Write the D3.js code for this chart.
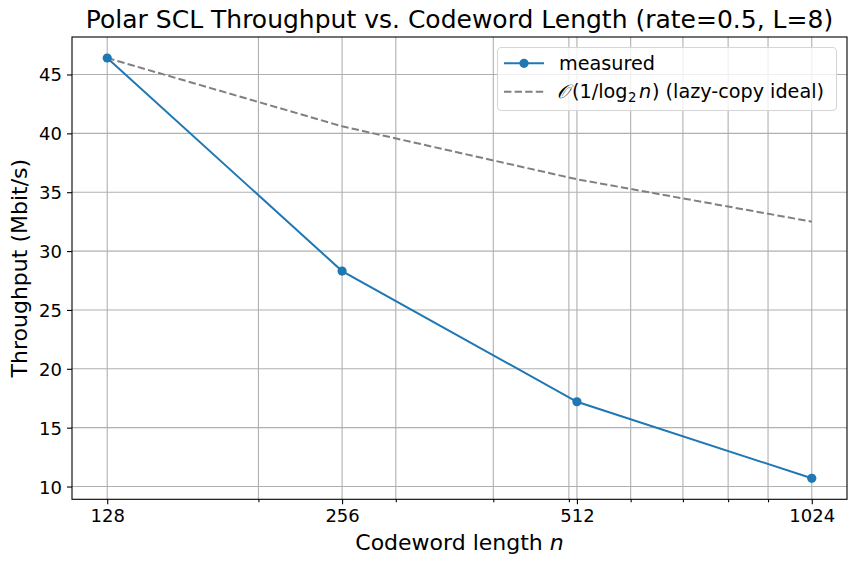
<!DOCTYPE html>
<html><head><meta charset="utf-8">
<script src="https://cdn.jsdelivr.net/npm/d3@7"></script>
<style>
body{margin:0;background:#fff;}
svg{display:block;font-family:"DejaVu Sans",sans-serif;}
</style></head>
<body><svg id="c" width="856" height="566"></svg>
<script>
const codewordLengths = [128, 256, 512, 1024];
const measured = [46.4, 28.3, 17.2, 10.7];
const ideal = [46.4, 40.6, 36.1, 32.5];
const xTickLabels = ["128", "256", "512", "1024"];
const xMinorTicks = [200, 300, 400, 500, 600, 700, 800, 900];
const yTicks = [10, 15, 20, 25, 30, 35, 40, 45];
const titleText = "Polar SCL Throughput vs. Codeword Length (rate=0.5, L=8)";
const xLabelText = "Codeword length ";
const yLabelText = "Throughput (Mbit/s)";
const legendLabels = ["measured", "\u{1D4AA}", "(1/log", "2", "n", ") (lazy-copy ideal)"];

const svg = d3.select("#c");
const L = 72, R = 847, T = 37, B = 499.3;
const blue = "#1f77b4", gray = "#808080", gridC = "#b0b0b0";

const lo = 128 * Math.pow(2, -0.15), hi = 1024 * Math.pow(2, 0.15);
const x = d3.scaleLog().base(2).domain([lo, hi]).range([L, R]);
const yMin = 10.7 - 0.05 * (46.4 - 10.7), yMax = 46.4 + 0.05 * (46.4 - 10.7);
const y = d3.scaleLinear().domain([yMin, yMax]).range([B, T]);

// grid
const g = svg.append("g");
g.selectAll(".vgm").data(xMinorTicks).join("line")
  .attr("x1", d => x(d)).attr("x2", d => x(d)).attr("y1", T).attr("y2", B)
  .attr("stroke", gridC).attr("stroke-width", 1.1);
g.selectAll(".vg").data(codewordLengths).join("line")
  .attr("x1", d => x(d)).attr("x2", d => x(d)).attr("y1", T).attr("y2", B)
  .attr("stroke", gridC).attr("stroke-width", 1.1);
g.selectAll(".hg").data(yTicks).join("line")
  .attr("x1", L).attr("x2", R).attr("y1", d => y(d)).attr("y2", d => y(d))
  .attr("stroke", gridC).attr("stroke-width", 1.1);

// axes
const xAxis = d3.axisBottom(x).tickValues(codewordLengths)
  .tickFormat((d, i) => xTickLabels[i]).tickSize(5).tickPadding(5);
const xAxisMinor = d3.axisBottom(x).tickValues(xMinorTicks).tickFormat("").tickSize(3);
const yAxis = d3.axisLeft(y).tickValues(yTicks).tickSize(5).tickPadding(5);

function styleAxis(sel) {
  sel.select(".domain").remove();
  sel.selectAll("line").attr("stroke", "#000").attr("stroke-width", 1.1);
  sel.selectAll("text").attr("fill", "#000").attr("font-size", "18px")
    .attr("font-family", "DejaVu Sans");
}
svg.append("g").attr("transform", `translate(0,${B})`).call(xAxisMinor).call(styleAxis);
svg.append("g").attr("transform", `translate(0,${B})`).call(xAxis).call(styleAxis)
  .selectAll("text").attr("dy", "0.71em");
svg.append("g").attr("transform", `translate(${L},0)`).call(yAxis).call(styleAxis)
  .selectAll("text").attr("dy", "0.36em");

// lines
const lineGen = d3.line().x(d => x(d[0])).y(d => y(d[1]));
svg.append("path").datum(codewordLengths.map((n, i) => [n, ideal[i]]))
  .attr("d", lineGen).attr("fill", "none").attr("stroke", gray)
  .attr("stroke-width", 2).attr("stroke-dasharray", "7.4,3.2");
svg.append("path").datum(codewordLengths.map((n, i) => [n, measured[i]]))
  .attr("d", lineGen).attr("fill", "none").attr("stroke", blue)
  .attr("stroke-width", 2);
svg.selectAll(".pt").data(codewordLengths.map((n, i) => [n, measured[i]])).join("circle")
  .attr("cx", d => x(d[0])).attr("cy", d => y(d[1])).attr("r", 4.6).attr("fill", blue);

// frame
svg.append("rect").attr("x", L).attr("y", T).attr("width", R - L).attr("height", B - T)
  .attr("fill", "none").attr("stroke", "#000").attr("stroke-width", 1.1);

// title & labels
svg.append("text").attr("x", (L + R) / 2).attr("y", 28).attr("text-anchor", "middle")
  .attr("font-size", "25px").attr("fill", "#000").text(titleText);
const xl = svg.append("text").attr("x", (L + R) / 2).attr("y", 549.5).attr("text-anchor", "middle")
  .attr("font-size", "22px").attr("fill", "#000");
xl.append("tspan").text(xLabelText);
xl.append("tspan").attr("font-style", "italic").text("n");
svg.append("text").attr("transform", `translate(27,${(T + B) / 2}) rotate(-90)`)
  .attr("text-anchor", "middle").attr("font-size", "22px").attr("fill", "#000").text(yLabelText);

// legend
const lg = svg.append("g");
lg.append("rect").attr("x", 497.5).attr("y", 47.5).attr("width", 339).attr("height", 63)
  .attr("rx", 4).attr("fill", "#fff").attr("fill-opacity", 0.8)
  .attr("stroke", "#d6d6d6").attr("stroke-width", 1.1);
lg.append("line").attr("x1", 504).attr("x2", 544).attr("y1", 63.3).attr("y2", 63.3)
  .attr("stroke", blue).attr("stroke-width", 2);
lg.append("circle").attr("cx", 524).attr("cy", 63.3).attr("r", 4.6).attr("fill", blue);
lg.append("line").attr("x1", 504).attr("x2", 544).attr("y1", 91.7).attr("y2", 91.7)
  .attr("stroke", gray).attr("stroke-width", 2).attr("stroke-dasharray", "7.4,3.2");
lg.append("text").attr("x", 559).attr("y", 70).attr("font-size", "19.2px").attr("fill", "#000")
  .text(legendLabels[0]);
const t2 = lg.append("text").attr("y", 98.4).attr("font-size", "19.2px").attr("fill", "#000");
t2.append("tspan").attr("x", 557).attr("font-family", "DejaVu Serif").attr("font-style", "italic").text(legendLabels[1]);
t2.append("tspan").attr("x", 572).text(legendLabels[2]);
t2.append("tspan").attr("x", 628).attr("font-size", "13.3px").attr("dy", 3.6).text(legendLabels[3]);
t2.append("tspan").attr("x", 639).attr("dy", -3.6).attr("font-style", "italic").text(legendLabels[4]);
t2.append("tspan").attr("x", 652).text(legendLabels[5]);
</script></body></html>
